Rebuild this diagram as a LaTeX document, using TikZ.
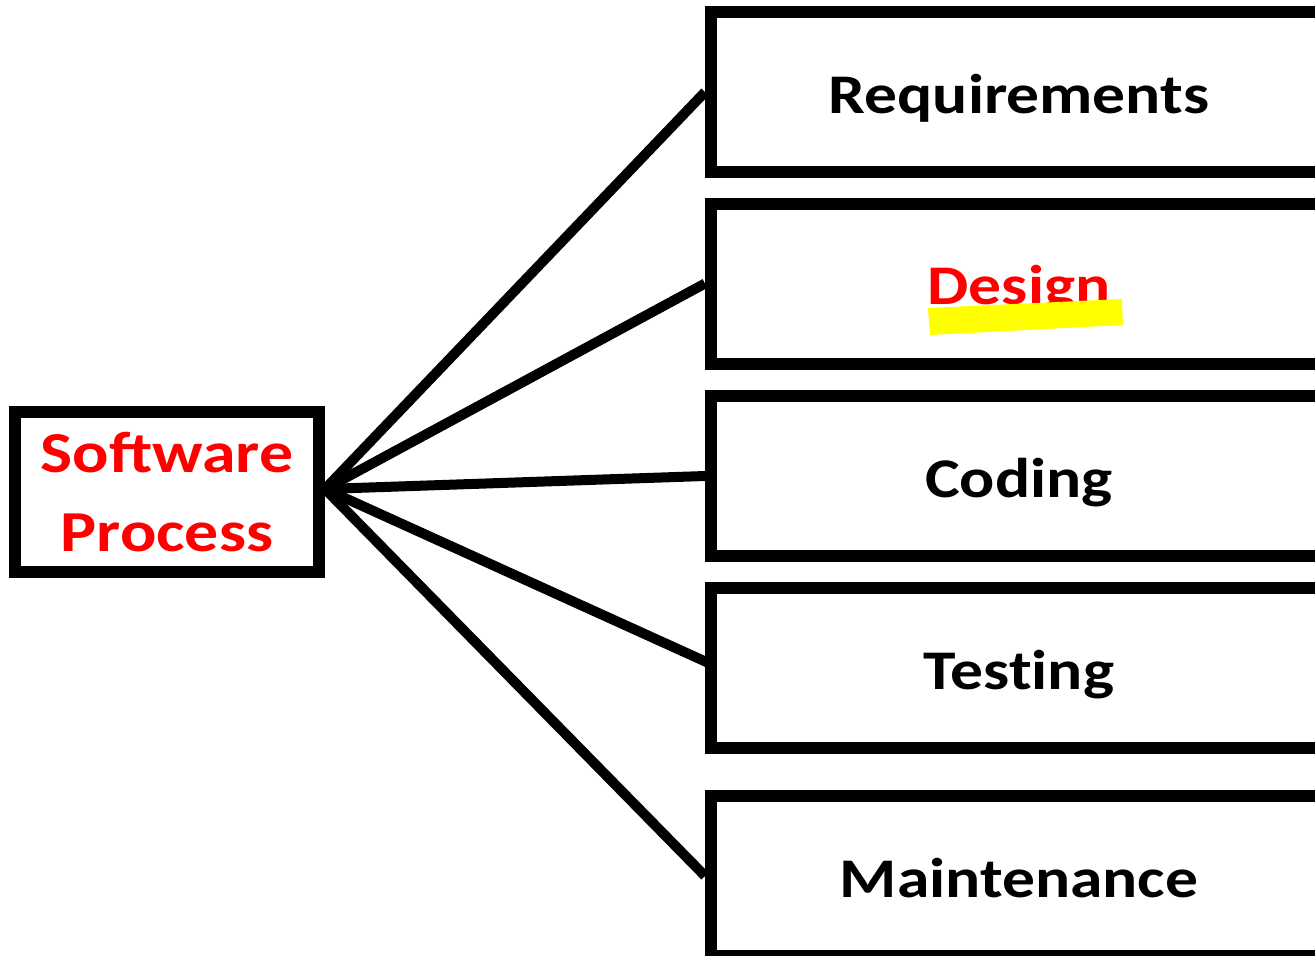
\documentclass[tikz,border=0pt]{standalone}
\usepackage{fontspec}
\setmainfont{Carlito}[FakeStretch=1.17]
\usetikzlibrary{calc}
\definecolor{procred}{RGB}{255,0,0}
\definecolor{marker}{RGB}{255,255,0}
\begin{document}
\begin{tikzpicture}[x=1pt,y=-1pt,
  frame/.style={draw=black, line width=12pt, rectangle, inner sep=0pt},
  phase/.style={frame, minimum width=616pt, minimum height=160pt,
    font=\fontsize{56}{60}\selectfont\bfseries, text height=42pt, text depth=0pt},
  link/.style={line width=10pt, draw=black}]
  \clip (0,0) rectangle (1315,956);

  % central box
  \node[frame, minimum width=304pt, minimum height=160pt, align=center,
        text=procred, font=\fontsize{58}{79}\selectfont\bfseries]
        (sp) at (167,492) {Software\\Process};

  % phase boxes, running off the right edge
  \node[phase] (req) at (1019,92) {Requirements};
  \node[phase, text=procred] (des) at (1019,283.5) {Design};
  \node[phase] (cod) at (1019,476) {Coding};
  \node[phase] (tst) at (1019,668) {Test\kern0pt ing};
  \node[phase] (mnt) at (1019,876) {Maintenance};

  % highlighter stroke under "Design"
  \fill[marker] (928,308) -- (1122,299) -- (1123,325) -- (930,335) -- cycle;

  % fan of connectors
  \coordinate (hub) at (325,489);
  \draw[link] (hub) -- (req.west);
  \draw[link] (hub) -- (des.west);
  \draw[link] (hub) -- (cod.west);
  \draw[link] (hub) -- ([shift={(8,-3)}]tst.west);
  \draw[link] (hub) -- (mnt.west);
\end{tikzpicture}
\end{document}
